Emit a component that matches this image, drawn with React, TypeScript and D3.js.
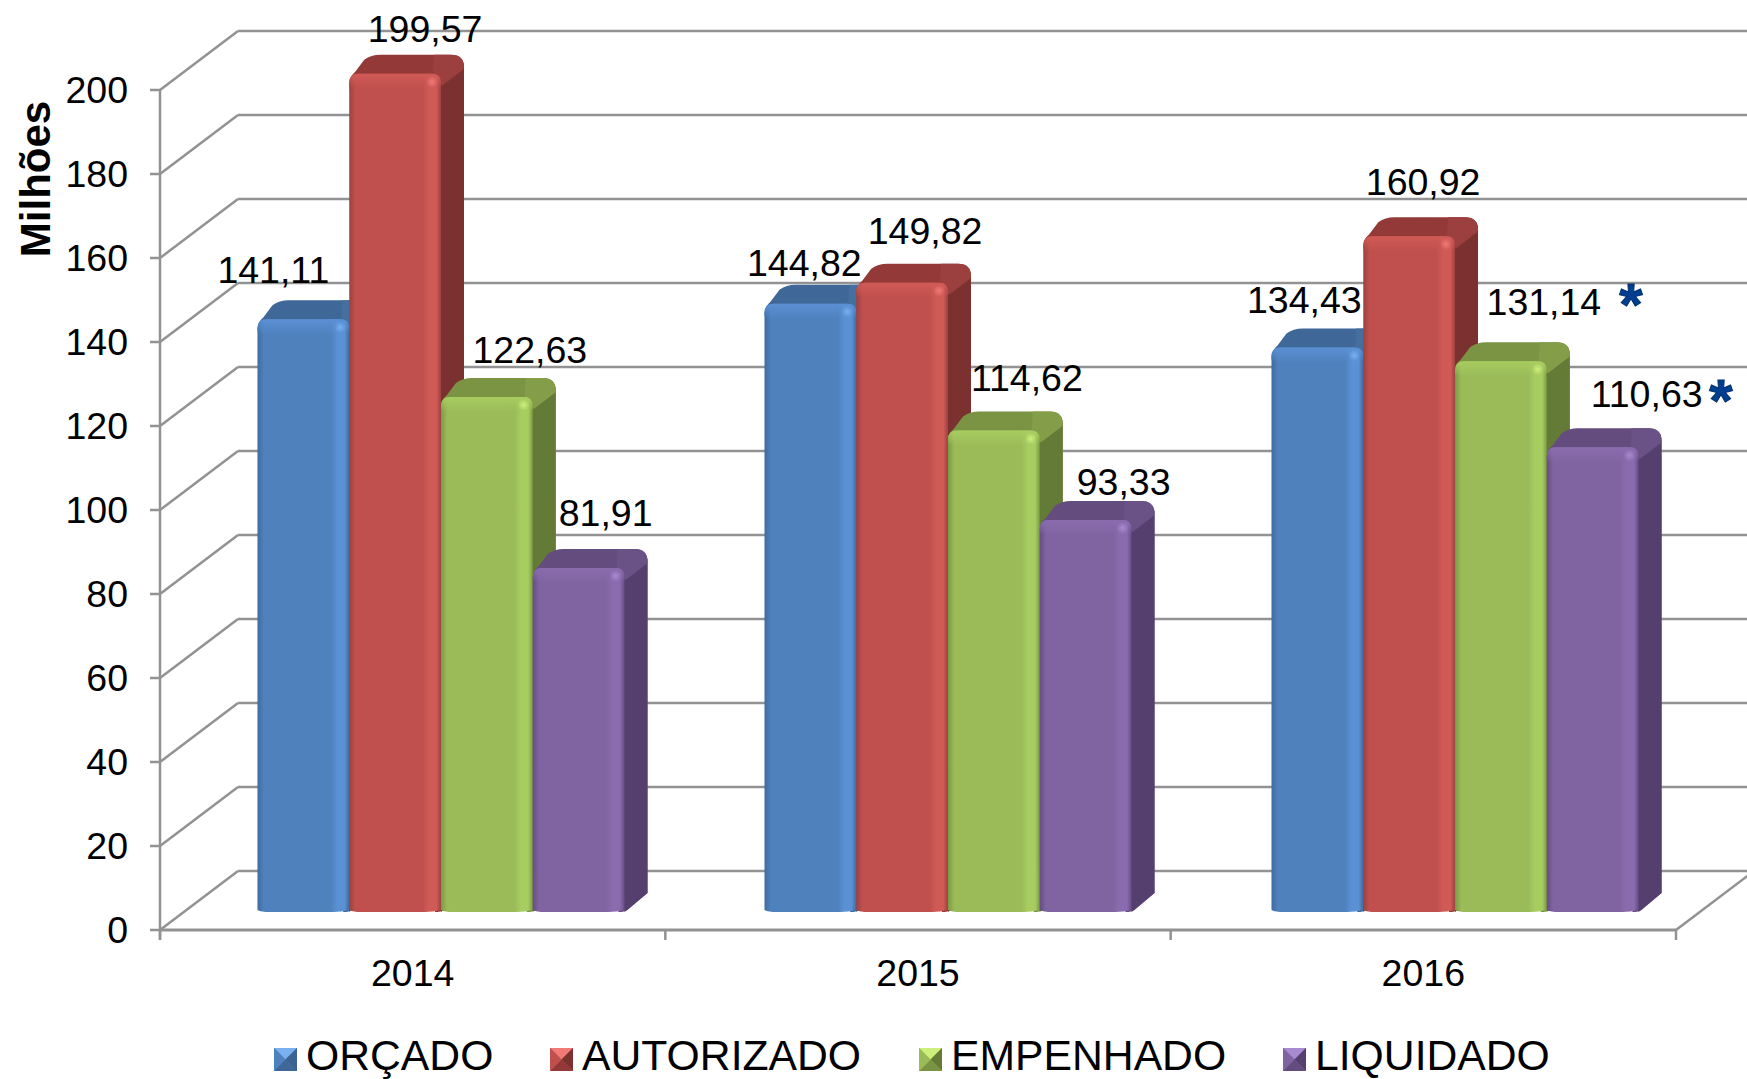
import React from 'react';
import { scaleBand, scaleLinear, path as d3path, range, formatLocale } from 'd3';

const width = 1747;
const height = 1079;

const years = ['2014', '2015', '2016'];
const seriesNames = ['ORÇADO', 'AUTORIZADO', 'EMPENHADO', 'LIQUIDADO'];
const orcado = [141.11, 144.82, 134.43];
const autorizado = [199.57, 149.82, 160.92];
const empenhado = [122.63, 114.62, 131.14];
const liquidado = [81.91, 93.33, 110.63];
const seriesValues = [orcado, autorizado, empenhado, liquidado];
const yTicks = range(0, 201, 20);

// label nudges relative to the bar centre / bar top, one per year
const labelDx = [
	[-30, -6, -13],
	[30, 23, 14],
	[43, 33, 43],
	[27, 38, 54],
];
const labelDy = [
	[-36, -28, -34],
	[-32, -39, -41],
	[-34, -40, -46],
	[-42, -25, -40],
];

const palette = [
	{ front: '#4f81bd', light: '#5a90d4', edge: '#3f6c9f', top: '#3f6797', corner: '#446f9f', side: '#3b6290', glow: '#78b0f0' },
	{ front: '#c0504d', light: '#d05a56', edge: '#9c4240', top: '#933a38', corner: '#9b403e', side: '#7b3130', glow: '#f07a76' },
	{ front: '#9bbb59', light: '#a7cc60', edge: '#7c9a44', top: '#7b9443', corner: '#839d49', side: '#647a37', glow: '#cdf07c' },
	{ front: '#8064a2', light: '#8a6cae', edge: '#664d85', top: '#644c7f', corner: '#6a5186', side: '#553f6e', glow: '#a88ad0' },
];

const axisColor = '#929292';
const font = "'Liberation Sans', Arial, sans-serif";

const depthX = 78;
const depthY = 59;
const barDepthX = 23;
const barDepthY = 19;
const baseLift = 18;

const y = scaleLinear().domain([0, 200]).range([930, 90]);
const axisX = scaleBand().domain(years).range([160, 1676]);
const groupX = scaleBand()
	.domain(years)
	.range([187.5, 1708.5])
	.paddingInner(0.2761)
	.paddingOuter(0.138);
const barX = scaleBand().domain(seriesNames).range([0, groupX.bandwidth()]);

const fmt = formatLocale({ decimal: ',', thousands: '.', grouping: [3], currency: ['', ''] }).format('.2f');

function silhouette(x: number, w: number, top: number, base: number) {
	const p = d3path();
	p.moveTo(x, top + 10);
	p.quadraticCurveTo(x, top + 3, x + 6, top - 2);
	p.lineTo(x + barDepthX - 8, top - barDepthY + 5);
	p.quadraticCurveTo(x + barDepthX - 1, top - barDepthY, x + barDepthX + 8, top - barDepthY);
	p.lineTo(x + w + barDepthX - 13, top - barDepthY);
	p.quadraticCurveTo(x + w + barDepthX, top - barDepthY, x + w + barDepthX, top - barDepthY + 13);
	p.lineTo(x + w + barDepthX, base - barDepthY);
	p.lineTo(x + w + 3, base - 2);
	p.quadraticCurveTo(x + w, base, x + w - 6, base);
	p.closePath();
	return p.toString();
}

function sidePath(x: number, w: number, top: number, base: number) {
	const p = d3path();
	p.moveTo(x + w - 6, top);
	p.lineTo(x + w + barDepthX - 7, top - barDepthY + 2);
	p.quadraticCurveTo(x + w + barDepthX, top - barDepthY + 3, x + w + barDepthX, top - barDepthY + 13);
	p.lineTo(x + w + barDepthX, base - barDepthY);
	p.lineTo(x + w, base);
	p.closePath();
	return p.toString();
}

function cornerPath(x: number, w: number, top: number) {
	const p = d3path();
	p.moveTo(x + w - 8, top);
	p.lineTo(x + w + barDepthX - 30, top - barDepthY);
	p.lineTo(x + w + barDepthX - 13, top - barDepthY);
	p.quadraticCurveTo(x + w + barDepthX, top - barDepthY, x + w + barDepthX, top - barDepthY + 13);
	p.lineTo(x + w + barDepthX - 1, top - barDepthY + 15);
	p.lineTo(x + w + 1, top + 12);
	p.closePath();
	return p.toString();
}

function frontPath(x: number, w: number, top: number, base: number) {
	const r = 9;
	const p = d3path();
	p.moveTo(x, base - 2);
	p.lineTo(x, top + r);
	p.quadraticCurveTo(x, top, x + r, top);
	p.lineTo(x + w - r, top);
	p.quadraticCurveTo(x + w, top, x + w, top + r);
	p.lineTo(x + w, base - 2);
	p.quadraticCurveTo(x + w - 8, base, x + w - 16, base);
	p.lineTo(x + 12, base);
	p.quadraticCurveTo(x + 4, base, x, base - 2);
	p.closePath();
	return p.toString();
}

function Bar({ x, w, value, s }: { x: number; w: number; value: number; s: number }) {
	const c = palette[s];
	const top = y(value) - baseLift;
	const base = y(0) - baseLift;
	return (
		<g>
			<path d={silhouette(x, w, top, base)} fill={c.top} />
			<path d={sidePath(x, w, top, base)} fill={c.side} />
			<path d={cornerPath(x, w, top)} fill={c.corner} />
			<path d={frontPath(x, w, top, base)} fill={`url(#front${s})`} />
			<path d={frontPath(x, w, top, top + 15)} fill={`url(#bevel${s})`} />
			<circle cx={x + w - 9} cy={top + 8} r={6} fill={`url(#glow${s})`} />
		</g>
	);
}

function App() {
	const backLeft = 160 + depthX;
	const legendX = [274, 550, 919, 1283];
	return (
		<svg
			width={width}
			height={height}
			style={{ position: 'absolute', left: 0, top: 0, background: '#fff' }}
			fontFamily={font}
		>
			<defs>
				{palette.map((c, s) => (
					<React.Fragment key={s}>
						<linearGradient id={`front${s}`} x1="0" x2="1" y1="0" y2="0">
							<stop offset="0" stopColor={c.edge} />
							<stop offset="0.07" stopColor={c.front} />
							<stop offset="0.8" stopColor={c.front} />
							<stop offset="0.87" stopColor={c.light} />
							<stop offset="0.95" stopColor={c.light} />
							<stop offset="1" stopColor={c.edge} />
						</linearGradient>
						<linearGradient id={`bevel${s}`} x1="0" x2="0" y1="0" y2="1">
							<stop offset="0" stopColor={c.light} stopOpacity="1" />
							<stop offset="1" stopColor={c.light} stopOpacity="0" />
						</linearGradient>
						<radialGradient id={`glow${s}`}>
							<stop offset="0" stopColor={c.glow} stopOpacity="1" />
							<stop offset="1" stopColor={c.glow} stopOpacity="0" />
						</radialGradient>
					</React.Fragment>
				))}
			</defs>

			<g stroke={axisColor} strokeWidth={2.5} fill="none">
				{yTicks.map((t) => (
					<g key={t}>
						<line x1={150} x2={160} y1={y(t)} y2={y(t)} />
						<line x1={160} x2={backLeft} y1={y(t)} y2={y(t) - depthY} />
						<line x1={backLeft} x2={width} y1={y(t) - depthY} y2={y(t) - depthY} />
					</g>
				))}
				<line x1={160} x2={160} y1={y(200)} y2={y(0) + 10} />
				<line x1={160} x2={1676} y1={y(0)} y2={y(0)} strokeWidth={3} />
				<line x1={1676} x2={1676 + depthX} y1={y(0)} y2={y(0) - depthY} />
				{years.map((yr) => (
					<line key={yr} x1={axisX(yr)} x2={axisX(yr)} y1={y(0)} y2={y(0) + 10} />
				))}
				<line x1={1676} x2={1676} y1={y(0)} y2={y(0) + 10} />
			</g>

			{years.map((yr, i) =>
				seriesNames.map((name, s) => (
					<Bar
						key={yr + name}
						x={groupX(yr) + barX(name)}
						w={barX.bandwidth()}
						value={seriesValues[s][i]}
						s={s}
					/>
				))
			)}

			<g fontSize={37.5} fill="#000">
				{yTicks.map((t) => (
					<text key={t} x={128} y={y(t) + 13} textAnchor="end">
						{t}
					</text>
				))}
				{years.map((yr) => (
					<text
						key={yr}
						x={axisX(yr) + axisX.bandwidth() / 2}
						y={986}
						textAnchor="middle"
					>
						{yr}
					</text>
				))}
				{years.map((yr, i) =>
					seriesNames.map((name, s) => (
						<text
							key={yr + name}
							x={groupX(yr) + barX(name) + barX.bandwidth() / 2 + labelDx[s][i]}
							y={y(seriesValues[s][i]) - baseLift + labelDy[s][i]}
							textAnchor="middle"
						>
							{fmt(seriesValues[s][i])}
						</text>
					))
				)}
			</g>

			<text
				transform="translate(50,179) rotate(-90)"
				textAnchor="middle"
				fontSize={42}
				fontWeight="bold"
				fill="#000"
			>
				Milhões
			</text>

			<g fontSize={60} fontWeight="bold" fill="#003f8f" stroke="#00306e" strokeWidth={1}>
				<text x={1631} y={325} textAnchor="middle">*</text>
				<text x={1721} y={421} textAnchor="middle">*</text>
			</g>

			{seriesNames.map((name, s) => {
				const c = palette[s];
				const lx = legendX[s];
				const ly = 1048;
				const sz = 23;
				const mx = lx + sz / 2;
				const my = ly + sz / 2;
				return (
					<g key={name}>
						<rect x={lx} y={ly} width={sz} height={sz} fill={c.front} />
						<polygon points={`${lx},${ly} ${lx + sz},${ly} ${mx},${my}`} fill={c.glow} />
						<polygon points={`${lx + sz},${ly} ${lx + sz},${ly + sz} ${mx},${my}`} fill={c.side} />
						<polygon points={`${lx},${ly + sz} ${lx + sz},${ly + sz} ${mx},${my}`} fill={c.top} />
						<polygon points={`${lx},${ly} ${lx},${ly + sz} ${mx},${my}`} fill={c.front} />
						<text x={lx + sz + 9} y={1070} fontSize={42.7} fill="#000">
							{name}
						</text>
					</g>
				);
			})}
		</svg>
	);
}

export default App;
